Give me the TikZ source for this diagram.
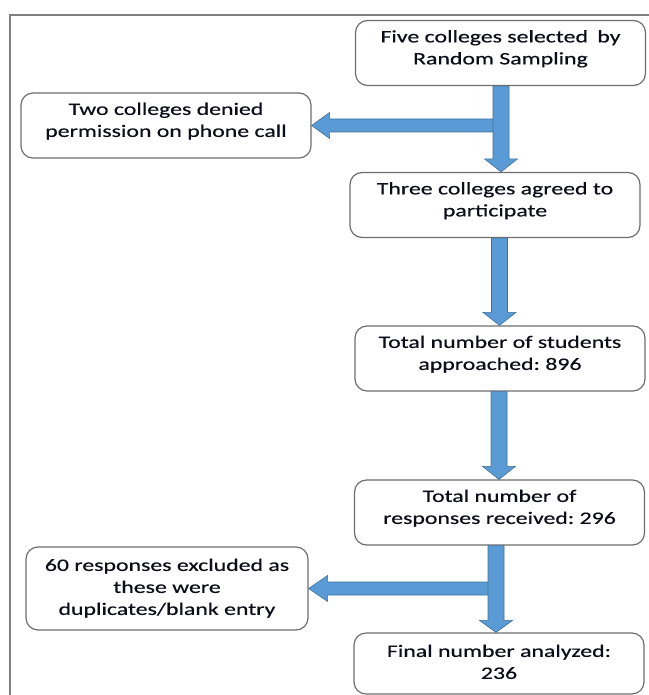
\documentclass[tikz,border=0pt]{standalone}
\usepackage{fontspec}
\setmainfont[FakeStretch=1.36,FakeBold=0.4]{Carlito}
\usetikzlibrary{calc}
\definecolor{arrfill}{HTML}{5B9BD5}
\definecolor{arredge}{HTML}{41719C}
\definecolor{boxedge}{HTML}{6E6E6E}
\definecolor{frameline}{HTML}{808080}
\definecolor{txt}{HTML}{0D0D1A}
\frenchspacing
\newcommand\boxtext[2][4pt]{\raisebox{#1}[\height][\depth]{\begin{tabular}{@{}c@{}}#2\end{tabular}}}
\begin{document}
\begin{tikzpicture}[x=1pt,y=-1pt,
  flowbox/.style={draw=boxedge, line width=1.2pt, rounded corners=12pt, fill=white,
    minimum width=290pt, minimum height=65pt, inner sep=0pt, text=txt,
    font=\fontsize{17.5}{22}\selectfont},
  blockarrow/.style={fill=arrfill, draw=arredge, line width=0.6pt, line join=miter}]
\useasboundingbox (0,0) rectangle (648,695);
\draw[frameline, line width=1.5pt] (10,700) -- (10,15) -- (655,15);

\node[flowbox] (sel) at (500.5,53) {\boxtext{Five colleges selected\hspace{4pt} by\\Random Sampling}};
\node[flowbox] (deny) at (166,125.5) {\boxtext{Two colleges denied\\permission on phone call}};
\node[flowbox] (agree) at (495,205) {\boxtext{Three colleges agreed to\\participate}};
\node[flowbox] (appr) at (500,358.5) {\boxtext{Total number of students\\approached: 896}};
\node[flowbox] (resp) at (499.5,512.5) {\boxtext{Total number of\\responses received: 296}};
\node[flowbox, minimum width=282pt, minimum height=83pt] (excl) at (167,588.5) {\boxtext[0pt]{60 responses excluded as\\these were\\duplicates/blank entry}};
\node[flowbox, minimum height=61pt] (final) at (499,663.5) {\boxtext[0pt]{Final number analyzed:\\236}};

% horizontal arrows (drawn first, under the vertical shafts)
\draw[blockarrow] let \p1=(deny.east), \p3=(497,0) in
  (\x3,\y1+6.5pt) -- (\x1+18pt,\y1+6.5pt) -- (\x1+18pt,\y1+13pt) -- (\x1,\y1)
  -- (\x1+18pt,\y1-13pt) -- (\x1+18pt,\y1-6.5pt) -- (\x3,\y1-6.5pt) -- cycle;
\draw[blockarrow] let \p1=(excl.east), \p3=(493,0) in
  (\x3,\y1+6.5pt) -- (\x1+19pt,\y1+6.5pt) -- (\x1+19pt,\y1+13pt) -- (\x1,\y1)
  -- (\x1+19pt,\y1-13pt) -- (\x1+19pt,\y1-6.5pt) -- (\x3,\y1-6.5pt) -- cycle;

% vertical arrows
\draw[blockarrow] let \p1=(sel.south), \p2=(agree.north), \p3=(501,0) in
  (\x3-8pt,\y1) -- (\x3+8pt,\y1) -- (\x3+8pt,\y2+13pt) -- (\x3+16.5pt,\y2+13pt) -- (\x3,\y2)
  -- (\x3-16.5pt,\y2+13pt) -- (\x3-8pt,\y2+13pt) -- cycle;
\draw[blockarrow] let \p1=(agree.south), \p2=(appr.north), \p3=(499.5,0) in
  (\x3-8pt,\y1) -- (\x3+8pt,\y1) -- (\x3+8pt,\y2+13pt) -- (\x3+16.5pt,\y2+13pt) -- (\x3,\y2)
  -- (\x3-16.5pt,\y2+13pt) -- (\x3-8pt,\y2+13pt) -- cycle;
\draw[blockarrow] let \p1=(appr.south), \p2=(resp.north), \p3=(499,0) in
  (\x3-8pt,\y1) -- (\x3+8pt,\y1) -- (\x3+8pt,\y2+13pt) -- (\x3+16.5pt,\y2+13pt) -- (\x3,\y2)
  -- (\x3-16.5pt,\y2+13pt) -- (\x3-8pt,\y2+13pt) -- cycle;
\draw[blockarrow] let \p1=(resp.south), \p2=(final.north), \p3=(496,0) in
  (\x3-8pt,\y1) -- (\x3+8pt,\y1) -- (\x3+8pt,\y2+12pt) -- (\x3+16.5pt,\y2+12pt) -- (\x3,\y2)
  -- (\x3-16.5pt,\y2+12pt) -- (\x3-8pt,\y2+12pt) -- cycle;
\end{tikzpicture}
\end{document}
